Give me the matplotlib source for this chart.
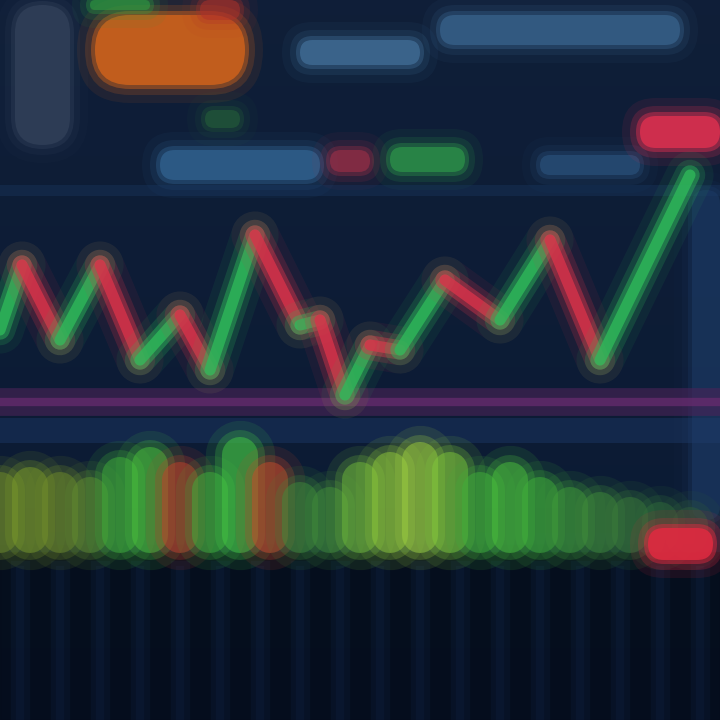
import numpy as np
import matplotlib
matplotlib.use("Agg")
import matplotlib.pyplot as plt
from matplotlib.patches import FancyBboxPatch

# zigzag price path (x position, price level)
price_x = [0, 22, 60, 100, 140, 180, 210, 255, 300, 320, 345, 370, 400, 445, 500, 550, 600, 690]
price_y = [390, 455, 380, 455, 360, 405, 350, 485, 395, 400, 325, 375, 370, 440, 400, 480, 360, 545]

# volume strip below the price
vol_x = [0, 30, 60, 90, 120, 150, 180, 210, 240, 270, 300, 330, 360, 390, 420, 450, 480, 510, 540, 570, 600, 630, 660, 690]
vol_h = [45, 50, 45, 40, 60, 70, 55, 45, 80, 55, 35, 30, 55, 65, 75, 65, 45, 55, 40, 30, 25, 20, 15, 10]
vol_c = ["#6f8a2a", "#7a9a2a", "#6f8a2a", "#5f8a30", "#3fae3a", "#4cc23c", "#c0402a", "#3fae3a",
         "#44c844", "#c84a2a", "#3f8a3a", "#3f8a3a", "#6fb83a", "#8fc83a", "#9fd040", "#7fc83a",
         "#3fae3a", "#4cc23c", "#3fae3a", "#3f9a3a", "#3f8a3a", "#3a7a3a", "#2f6a3a", "#2f5a3a"]

# blurred header / label blocks: (x, y, w, h, colour, alpha)
blocks = [
    (15, 575, 55, 140, "#3b4a63", 0.5),
    (95, 635, 150, 70, "#d8661a", 0.75),
    (90, 710, 60, 10, "#2f9a40", 0.6),
    (200, 700, 40, 20, "#b0302a", 0.5),
    (300, 655, 120, 25, "#4a7ca8", 0.55),
    (440, 675, 240, 30, "#3f6e9a", 0.55),
    (160, 540, 160, 30, "#356a9a", 0.6),
    (330, 548, 40, 22, "#a03048", 0.6),
    (390, 548, 75, 25, "#2f9a4a", 0.65),
    (540, 545, 100, 20, "#2f5a88", 0.5),
    (640, 572, 80, 32, "#e03050", 0.8),
    (205, 592, 35, 18, "#2f7a3a", 0.35),
    (692, 200, 28, 330, "#1f3e6a", 0.45),
]


def glow_box(ax, x, y, w, h, color, alpha=0.6, z=2):
    for pad, a in [(18, 0.12), (10, 0.25), (4, 0.55), (0, 1.0)]:
        ax.add_patch(FancyBboxPatch((x, y), w, h,
                                    boxstyle=f"round,pad={pad},rounding_size={min(w, h) / 2 + pad}",
                                    fc=color, ec="none", alpha=a * alpha, zorder=z))


fig = plt.figure(figsize=(7.2, 7.2), dpi=100)
ax = fig.add_axes([0, 0, 1, 1])
ax.set_xlim(0, 720)
ax.set_ylim(0, 720)
ax.axis("off")

# background gradient
grad = np.linspace(0, 1, 256).reshape(-1, 1, 1)
top = np.array([0.06, 0.12, 0.22])
mid = np.array([0.04, 0.10, 0.20])
rgb = np.clip(mid + (top - mid) * grad, 0, 1)
rgb = np.repeat(rgb, 2, axis=1)
ax.imshow(rgb, extent=[0, 720, 0, 720], origin="lower", aspect="auto", zorder=0)
ax.axhspan(0, 175, color="#050c1a", alpha=0.85, zorder=0.5)
for gx in range(20, 720, 40):
    ax.axvline(gx, ymin=0, ymax=150 / 720, color="#142a50", lw=14, alpha=0.18, zorder=0.6)
    ax.axvline(gx, ymin=0, ymax=150 / 720, color="#142a50", lw=6, alpha=0.2, zorder=0.6)

for x, y, w, h, c, a in blocks:
    glow_box(ax, x, y, w, h, c, a)

# faint horizontal guide lines
ax.axhline(530, color="#1c3a66", lw=8, alpha=0.35)
ax.axhline(318, color="#4a2458", lw=20, alpha=0.6)
ax.axhline(318, color="#6a2c70", lw=6, alpha=0.7)
ax.axhline(290, color="#1f3e6e", lw=18, alpha=0.4)
ax.axhline(178, color="#0a1a36", lw=14, alpha=0.8)

# volume strip
base = 185
for i in range(len(vol_x)):
    for lw, a in [(50, 0.12), (36, 0.25), (26, 0.5)]:
        ax.plot([vol_x[i], vol_x[i]], [base, base + vol_h[i]], color=vol_c[i],
                lw=lw, alpha=a, solid_capstyle="round", zorder=3)
glow_box(ax, 648, 160, 65, 32, "#e02a40", 0.85, z=4)

# zigzag price line
for i in range(len(price_x) - 1):
    up = price_y[i + 1] >= price_y[i]
    c = "#2fb85a" if up else "#d8334a"
    for lw, a in [(34, 0.08), (22, 0.2), (14, 0.45), (8, 0.8)]:
        ax.plot(price_x[i:i + 2], price_y[i:i + 2], color=c, lw=lw, alpha=a,
                solid_capstyle="round", zorder=5)

fig.savefig("out.png", dpi=100, facecolor="#0a1830")
